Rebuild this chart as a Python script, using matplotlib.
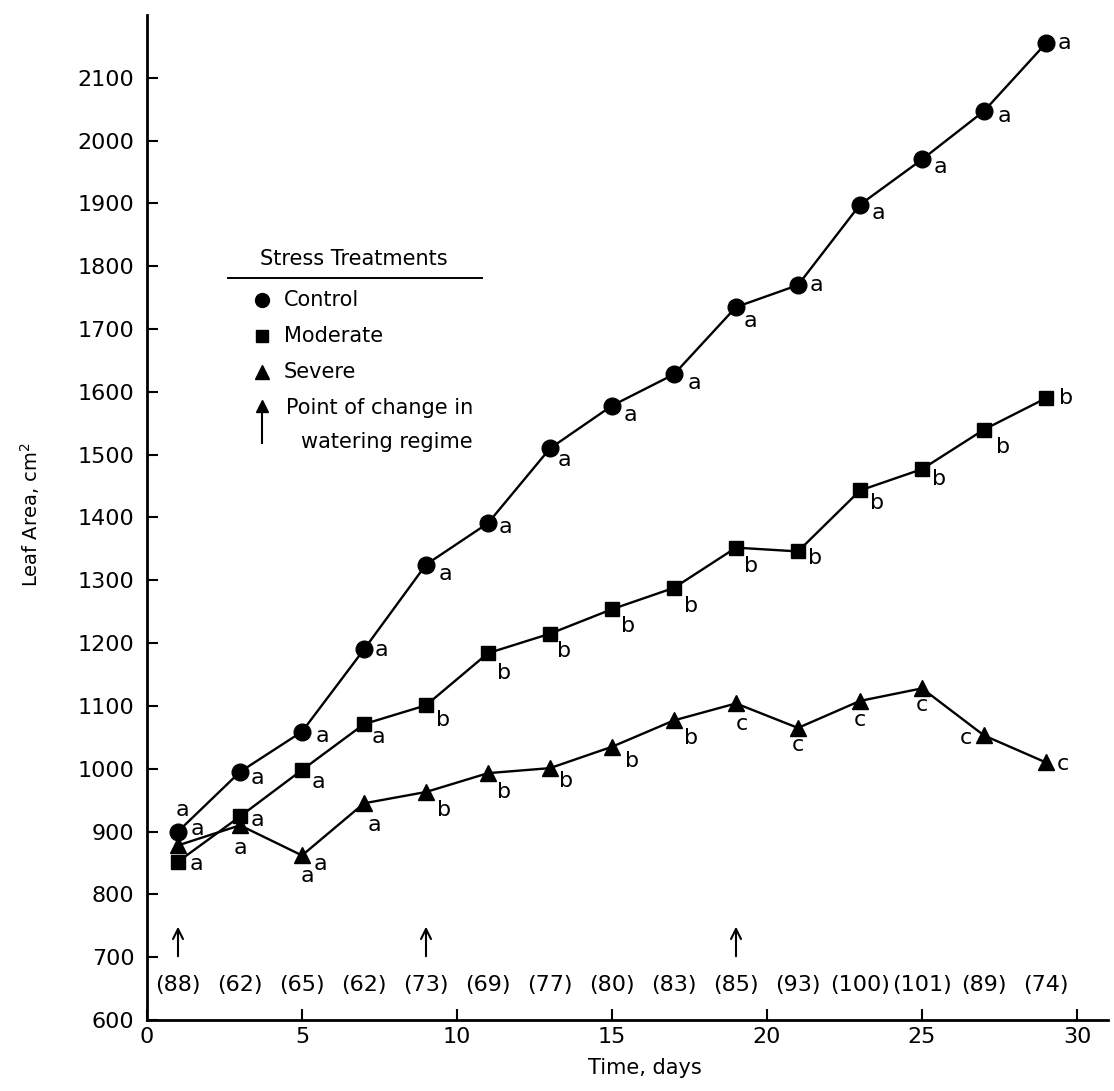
import matplotlib
matplotlib.use("Agg")
import matplotlib.pyplot as plt

# Leaf area of plants under three watering regimes
days = [1, 3, 5, 7, 9, 11, 13, 15, 17, 19, 21, 23, 25, 27, 29]
control = [900, 995, 1059, 1190, 1325, 1391, 1510, 1578, 1628, 1735, 1770, 1898, 1970, 2047, 2155]
moderate = [852, 924, 998, 1071, 1101, 1184, 1215, 1254, 1288, 1352, 1346, 1443, 1477, 1540, 1590]
severe = [878, 910, 862, 945, 963, 993, 1001, 1035, 1077, 1104, 1065, 1108, 1128, 1053, 1010]

# significance letters
control_sig = ["a"] * 15
moderate_sig = ["a", "a", "a", "a", "b", "b", "b", "b", "b", "b", "b", "b", "b", "b", "b"]
severe_sig = ["a", "a", "a", "a", "b", "b", "b", "b", "b", "c", "c", "c", "c", "c", "c"]

# number of plants sampled each day
plants = ["88", "62", "65", "62", "73", "69", "77", "80", "83", "85", "93", "100", "101", "89", "74"]
change_days = [1, 9, 19]

# letter offsets in pixels (right, down)
control_off = [(4, -22), (17, 6), (20, 4), (17, 1), (19, 9), (17, 4), (14, 12), (18, 9),
               (20, 9), (14, 14), (18, 0), (18, 8), (18, 8), (20, 5), (18, 0)]
moderate_off = [(18, 2), (17, 4), (16, 12), (14, 13), (17, 15), (16, 20), (14, 17), (16, 17),
                (17, 18), (15, 18), (17, 7), (17, 13), (17, 10), (19, 17), (20, 0)]
severe_off = [(19, -16), (0, 23), (5, 21), (10, 22), (18, 18), (16, 19), (16, 13), (20, 14),
              (17, 18), (6, 21), (0, 17), (0, 19), (0, 17), (-18, 3), (17, 2)]

W, H = 1114, 1091
fig = plt.figure(figsize=(W / 100, H / 100), dpi=100)
ax = fig.add_axes([147 / W, 1 - 1020 / H, 961 / W, 1005 / H])

font = "DejaVu Sans"
plt.rcParams["font.family"] = font

ax.plot(days, control, color="black", lw=1.7, marker="o", ms=12, zorder=3)
ax.plot(days, moderate, color="black", lw=1.7, marker="s", ms=10, zorder=3)
ax.plot(days, severe, color="black", lw=1.7, marker="^", ms=11.5, zorder=3)


def letters(ys, sig, offs):
    for d, y, s, (dx, dy) in zip(days, ys, sig, offs):
        ax.annotate(s, (d, y), xytext=(dx, -dy), textcoords="offset pixels",
                    ha="center", va="center", fontsize=16)


letters(control, control_sig, control_off)
letters(moderate, moderate_sig, moderate_off)
letters(severe, severe_sig, severe_off)
# second letter printed beside the day 5 triangle
ax.annotate("a", (days[2], severe[2]), xytext=(18, -9), textcoords="offset pixels",
            ha="center", va="center", fontsize=16)

# sample sizes along the bottom
for d, n in zip(days, plants):
    ax.text(d, 656, "(" + n + ")", ha="center", va="center", fontsize=16)

# arrows marking a change in watering
for d in change_days:
    ax.annotate("", xy=(d, 753), xytext=(d, 697),
                arrowprops=dict(arrowstyle="->", lw=1.5, color="black",
                                mutation_scale=18))

ax.set_xlim(0, 31)
ax.set_ylim(600, 2200)
ax.set_xticks([0, 5, 10, 15, 20, 25, 30])
ax.set_yticks(range(600, 2101, 100))
ax.spines["top"].set_visible(False)
ax.spines["right"].set_visible(False)
ax.spines["left"].set_linewidth(2)
ax.spines["bottom"].set_linewidth(2)
ax.tick_params(direction="in", length=8, width=1.5, labelsize=16)
ax.tick_params(axis="y", pad=9)
ax.tick_params(axis="x", pad=5)

fig.text(30 / W, 1 - 515 / H, "Leaf Area, cm$^2$", rotation=90, ha="center",
         va="center", fontsize=14)
fig.text(645 / W, 1 - 1068 / H, "Time, days", ha="center", va="center", fontsize=15)


# legend block drawn by hand
def fx(px):
    return px / W


def fy(py):
    return 1 - py / H


fig.text(fx(354), fy(259), "Stress Treatments", ha="center", va="center", fontsize=15)
fig.add_artist(plt.Line2D([fx(228), fx(482)], [fy(278), fy(278)], color="black", lw=1.4))
for py, m, ms, name in [(300, "o", 10, "Control"), (336, "s", 9, "Moderate"),
                        (372, "^", 10, "Severe")]:
    fig.add_artist(plt.Line2D([fx(262)], [fy(py)], marker=m, ms=ms, color="black", lw=0))
    fig.text(fx(284), fy(py), name, ha="left", va="center", fontsize=15)
fig.add_artist(plt.Line2D([fx(262), fx(262)], [fy(443), fy(410)], color="black", lw=1.5))
fig.add_artist(plt.Line2D([fx(262)], [fy(406)], marker="^", ms=8, color="black", lw=0))
fig.text(fx(286), fy(408), "Point of change in", ha="left", va="center", fontsize=15)
fig.text(fx(301), fy(442), "watering regime", ha="left", va="center", fontsize=15)

fig.savefig("out.png", dpi=100)
